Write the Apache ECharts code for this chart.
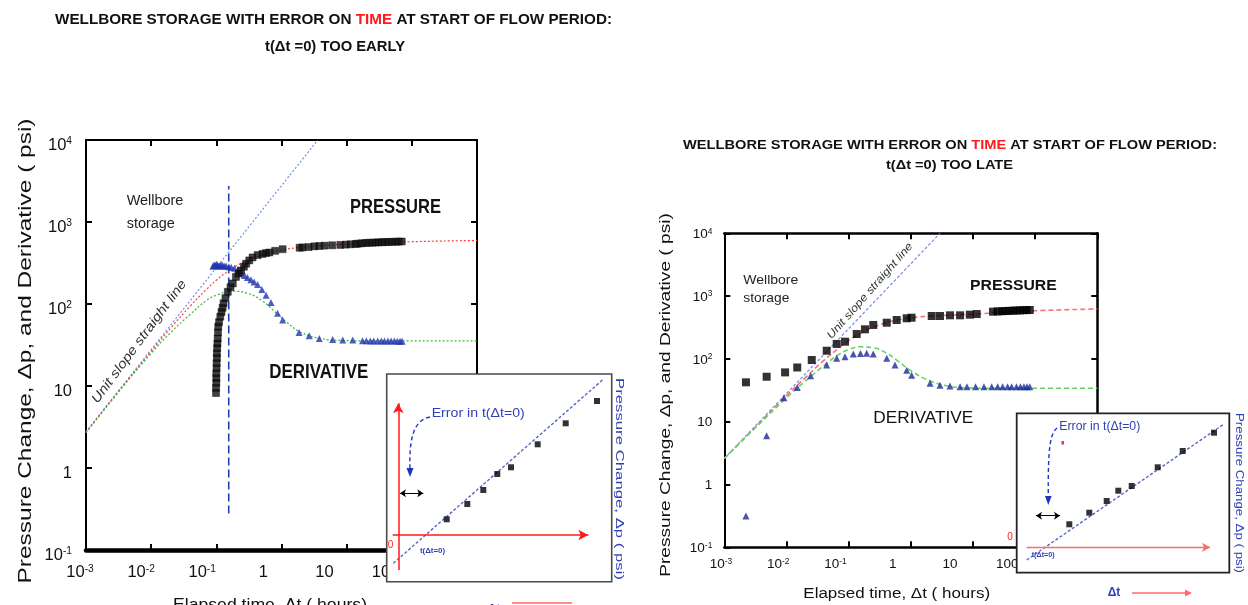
<!DOCTYPE html>
<html><head><meta charset="utf-8">
<script src="https://cdn.jsdelivr.net/npm/echarts@6/dist/echarts.min.js"></script>
<style>html,body{margin:0;padding:0;background:#fff}#c{width:1248px;height:605px}</style>
</head><body><div id="c"></div>
<script>
// ---------------- data ----------------
const xTickExp = [-3, -2, -1, 0, 1, 2, 3];
const xTickLabels = ['10{s|-3}', '10{s|-2}', '10{s|-1}', '1', '10', '100', '1000'];
const yTickExp = [-1, 0, 1, 2, 3, 4];
const yTickLabels = ['10{s|-1}', '1', '10', '10{s|2}', '10{s|3}', '10{s|4}'];

// Left chart: t(dt=0) too early
const leftPressureT = [0.099,0.099,0.1,0.1,0.1,0.101,0.101,0.102,0.102,0.103,0.104,0.105,0.106,0.107,0.11,0.115,0.12,0.125,0.129,0.138,0.15,0.165,0.179,0.2,0.22,0.24,0.265,0.287,0.32,0.36,0.43,0.51,0.58,0.65,0.8,1.04,1.9,2.1,2.6,3.2,3.8,4.6,6.0,8.0,9.7,11.5,13.8,15,17,19.6,22,25,28,31,35,39,44,50,57,63,70];
const leftPressureP = [8.2,9.5,11,12.5,14.3,16.5,19,22,25,29,33,38,45,53,60,70,80,90,102,118,141,160,178,214,235,256,285,310,340,370,395,408,418,425,445,466,485,490,495,505,510,515,520,525,530,535,540,545,550,555,558,560,562,565,567,569,571,573,575,577,578];
const leftDerivT = [0.0885,0.092,0.096,0.1,0.104,0.108,0.112,0.118,0.125,0.133,0.141,0.155,0.169,0.19,0.214,0.24,0.27,0.3,0.34,0.38,0.43,0.5,0.58,0.69,0.87,1.04,1.86,2.66,3.8,6.1,8.7,12.4,17.5,20,23,26,30,34,38,43,48,54,60,66,71];
const leftDerivD = [289,300,295,306,298,289,292,300,296,288,290,285,281,272,262,240,223,210,198,185,173,150,128,104,77,64,45,41,38,37,36.5,36.5,35.7,35.7,35.5,35.5,35.5,35.4,35.4,35.3,35.3,35.3,35.2,35.2,35.2];
const leftModelT = [0.001,0.003,0.01,0.02,0.04,0.07,0.1,0.15,0.2,0.3,0.5,0.7,1,2,5,10,30,100,1000];
const leftModelP = [2.7,8.2,26.5,51,95,150,195,250,290,340,395,425,455,490,520,535,555,575,595];
const leftModelDT = [0.001,0.003,0.01,0.02,0.04,0.07,0.1,0.18,0.3,0.5,0.8,1.2,2,4,8,20,1000];
const leftModelD = [2.7,8,25,45,75,110,128,143,135,110,80,60,45,38,36,35.5,35.5];
const leftUnitSlopeT = [0.001, 3.61];
const leftUnitSlopeP = [2.77, 10000];
const leftTimeMarkT = [0.155, 0.155];
const leftTimeMarkP = [0.278, 2750];

// Right chart: t(dt=0) too late
const rightPressureT = [0.00223,0.0048,0.0095,0.0149,0.0255,0.0444,0.0643,0.0874,0.135,0.183,0.249,0.41,0.593,0.859,1.03,2.17,2.95,4.27,6.2,8.9,11.5,21,25,29,33,38,44,50,57,65,73,82];
const rightPressureP = [42.4,52,61,73,96,135,173,188,249,296,347,377,416,443,453,482,482,494,494,506,518,565,570,575,578,582,586,590,593,596,599,601];
const rightDerivT = [0.00223,0.0048,0.0091,0.0149,0.0245,0.0444,0.0643,0.0874,0.119,0.155,0.195,0.249,0.41,0.557,0.859,1.03,2.04,2.95,4.27,6.2,8,11,15,20,25,30,36,42,50,58,66,74,82];
const rightDerivD = [0.315,6.0,24,35,54,80,102,108,120,122,123,120,102,80,66,55,41,38,37,36,36,36,36,36,36,36,36,36,36,36,36,36,36];
const rightModelT = [0.001,0.003,0.01,0.02,0.04,0.07,0.1,0.15,0.25,0.4,0.6,1,2,5,10,30,100,1000];
const rightModelP = [2.6,7.8,26,50,95,150,195,250,320,375,415,450,480,500,515,550,585,624];
const rightModelDT = [0.001,0.003,0.01,0.02,0.04,0.07,0.1,0.152,0.25,0.4,0.6,1,2,4,8,20,1000];
const rightModelD = [2.6,7.6,24,44,78,118,140,156,150,125,95,65,45,37,34.5,34,34];
const rightUnitSlopeT = [0.001, 2.95];
const rightUnitSlopeP = [2.6, 10000];

// Insets (sketch units: dt axis vs pressure change)
const leftInsetX = [48.4,69,85,99,112.7,139.4,167.4,198.7];
const leftInsetY = [15.7,31,45,61,67.7,90.7,111.7,134];
const leftInsetLineX = [-5, 205];
const leftInsetLineY = [-28.3, 155.7];
const rightInsetX = [42.6,62.6,80,91.6,105,131,156,187.3];
const rightInsetY = [23,34.6,46.3,56.6,61.3,80,96.3,114.6];
const rightInsetLineX = [0, 197.3];
const rightInsetLineY = [-12.7, 123.3];

// ---------------- helpers ----------------
const zip = (a, b) => a.map((v, i) => [v, b[i]]);
const cv = document.createElement('canvas').getContext('2d');
function mw(t, font) { cv.font = font; return cv.measureText(t).width; }
const FR = '"Liberation Sans", Arial, sans-serif';
function fmt(exps, labs) {
  return v => { const e = Math.round(Math.log10(v)); const i = exps.indexOf(e); return i >= 0 ? labs[i] : ''; };
}

const lfs = 16.5;
const rfs = 13.5;

function mainX(grid, pos, lw) {
  return { type: 'log', logBase: 10, gridIndex: grid, position: pos, min: 0.001, max: 1000, interval: 1, splitNumber: 6,
    axisLine: { show: true, onZero: false, lineStyle: { color: '#000', width: lw } },
    axisTick: { show: true, inside: true, length: 6, lineStyle: { color: '#000', width: 2 } },
    axisLabel: { show: false }, splitLine: { show: false }, minorTick: { show: false } };
}
function mainY(grid, pos, lw, fs, margin, padTop) {
  return { type: 'log', logBase: 10, gridIndex: grid, position: pos, min: 0.1, max: 10000, interval: 1, splitNumber: 5,
    axisLine: { show: true, onZero: false, lineStyle: { color: '#000', width: lw } },
    axisTick: { show: true, inside: true, length: 6, lineStyle: { color: '#000', width: 2 } },
    axisLabel: pos === 'left' ? { show: true, margin: margin, fontSize: fs, fontFamily: FR, color: '#111',
      padding: [padTop, 0, 0, 0],
      formatter: fmt(yTickExp, yTickLabels),
      rich: { s: { fontSize: fs * 0.62, fontFamily: FR, color: '#111', padding: [0, 0, fs * 0.45, 0] } } } : { show: false },
    splitLine: { show: false } };
}
function labelX(grid, fs, margin) {
  return { type: 'log', logBase: 10, gridIndex: grid, min: 0.001, max: 1000, interval: 1, splitNumber: 6,
    axisLine: { show: false }, axisTick: { show: false }, splitLine: { show: false },
    axisLabel: { show: true, margin: margin, fontSize: fs, fontFamily: FR, color: '#111',
      formatter: fmt(xTickExp, xTickLabels),
      rich: { s: { fontSize: fs * 0.62, fontFamily: FR, color: '#111', padding: [0, 0, fs * 0.45, 0] } } } };
}
function hiddenVal(grid, min, max) {
  return { type: 'value', gridIndex: grid, min: min, max: max, show: false, axisLine: { show: false }, splitLine: { show: false } };
}

const BLUE = '#2234b0';
const INSET_BLUE = '#3040b8';

const option = {
  animation: false,
  backgroundColor: '#fff',
  textStyle: { fontFamily: FR },
  grid: [
    { left: 86, top: 140, width: 391, height: 410, outerBoundsMode: 'none' },
    { left: 80, top: 140, width: 366.6, height: 410, outerBoundsMode: 'none' },
    { left: 724.3, top: 233.3, width: 373, height: 314, outerBoundsMode: 'none' },
    { left: 721, top: 233.3, width: 343.5, height: 314, outerBoundsMode: 'none' },
    { left: 386.7, top: 374, width: 225, height: 207.7, outerBoundsMode: 'none' },
    { left: 1016.7, top: 413.3, width: 212.6, height: 159.4, outerBoundsMode: 'none' }
  ],
  xAxis: [
    mainX(0, 'bottom', 4.5), mainX(0, 'top', 2), labelX(1, lfs, 14),
    mainX(2, 'bottom', 2.5), mainX(2, 'top', 2.5), labelX(3, rfs, 10),
    hiddenVal(4, -11.6, 213.4), hiddenVal(5, -10, 202.6)
  ],
  yAxis: [
    mainY(0, 'left', 2, lfs, 14, 10), mainY(0, 'right', 2, lfs, 0, 0), hiddenVal(1, 0, 1),
    mainY(2, 'left', 2, rfs, 12, 2), mainY(2, 'right', 2.5, rfs, 0, 0), hiddenVal(3, 0, 1),
    hiddenVal(4, -46.7, 161), hiddenVal(5, -25.4, 134)
  ],
  series: [
    // ---- left chart ----
    { type: 'line', xAxisIndex: 0, yAxisIndex: 0, data: zip(leftUnitSlopeT, leftUnitSlopeP), symbol: 'none',
      lineStyle: { color: '#6f8fe8', width: 1.2, type: [2, 2] }, z: 2 },
    { type: 'line', xAxisIndex: 0, yAxisIndex: 0, data: zip(leftModelT, leftModelP), symbol: 'none', smooth: true,
      lineStyle: { color: '#ff3a3a', width: 1.2, type: [2, 2] }, z: 2 },
    { type: 'line', xAxisIndex: 0, yAxisIndex: 0, data: zip(leftModelDT, leftModelD), symbol: 'none', smooth: true,
      lineStyle: { color: '#3cb83c', width: 1.2, type: [2, 2] }, z: 2 },
    { type: 'line', xAxisIndex: 0, yAxisIndex: 0, data: zip(leftTimeMarkT, leftTimeMarkP), symbol: 'none',
      lineStyle: { color: '#2040b0', width: 1.6, type: [8, 4] }, z: 3 },
    { type: 'scatter', xAxisIndex: 0, yAxisIndex: 0, data: zip(leftDerivT, leftDerivD), symbol: 'triangle', symbolSize: 7,
      itemStyle: { color: BLUE }, z: 4 },
    { type: 'scatter', xAxisIndex: 0, yAxisIndex: 0, data: zip(leftPressureT, leftPressureP), symbol: 'rect', symbolSize: 7,
      itemStyle: { color: '#111', borderColor: '#000', borderWidth: 0.5 }, z: 5 },
    // ---- right chart ----
    { type: 'line', xAxisIndex: 3, yAxisIndex: 3, data: zip(rightUnitSlopeT, rightUnitSlopeP), symbol: 'none',
      lineStyle: { color: '#6f8fe8', width: 1.2, type: [3, 2] }, z: 2 },
    { type: 'line', xAxisIndex: 3, yAxisIndex: 3, data: zip(rightModelT, rightModelP), symbol: 'none', smooth: true,
      lineStyle: { color: '#ff7070', width: 1.6, type: [5, 3] }, z: 2 },
    { type: 'line', xAxisIndex: 3, yAxisIndex: 3, data: zip(rightModelDT, rightModelD), symbol: 'none', smooth: true,
      lineStyle: { color: '#66d066', width: 1.6, type: [5, 3] }, z: 2 },
    { type: 'scatter', xAxisIndex: 3, yAxisIndex: 3, data: zip(rightDerivT, rightDerivD), symbol: 'triangle', symbolSize: 7,
      itemStyle: { color: '#1a2a9a' }, z: 4 },
    { type: 'scatter', xAxisIndex: 3, yAxisIndex: 3, data: zip(rightPressureT, rightPressureP), symbol: 'rect', symbolSize: 8,
      itemStyle: { color: '#000' }, z: 5 },
    // ---- left inset ----
    { type: 'line', xAxisIndex: 6, yAxisIndex: 6, data: zip(leftInsetLineX, leftInsetLineY), symbol: 'none',
      lineStyle: { color: '#5566c4', width: 1.4, type: [3, 2] }, z: 60,
      markLine: { silent: true, z: 62, symbol: ['none', 'arrow'], symbolSize: [8, 10], label: { show: false },
        lineStyle: { color: '#ff1a1a', type: 'solid', width: 1.5 },
        data: [[{ coord: [-5.6, 0] }, { coord: [190, 0] }], [{ coord: [0, -35] }, { coord: [0, 131.7] }]] } },
    { type: 'scatter', xAxisIndex: 6, yAxisIndex: 6, data: zip(leftInsetX, leftInsetY), symbol: 'rect', symbolSize: 6,
      itemStyle: { color: '#000' }, z: 61,
      markLine: { silent: true, z: 62, symbol: ['arrow', 'arrow'], symbolSize: [6, 6], label: { show: false },
        lineStyle: { color: '#000', type: 'solid', width: 1 },
        data: [[{ coord: [1.7, 41.7] }, { coord: [25, 41.7] }]] } },
    // ---- right inset ----
    { type: 'line', xAxisIndex: 7, yAxisIndex: 7, data: zip(rightInsetLineX, rightInsetLineY), symbol: 'none',
      lineStyle: { color: '#5566c4', width: 1.4, type: [3, 2] }, z: 60,
      markLine: { silent: true, z: 62, symbol: ['none', 'arrow'], symbolSize: [7, 8], label: { show: false },
        lineStyle: { color: '#ff6a6a', type: 'solid', width: 1.3 },
        data: [[{ coord: [0, 0] }, { coord: [183.3, 0] }]] } },
    { type: 'scatter', xAxisIndex: 7, yAxisIndex: 7, data: zip(rightInsetX, rightInsetY), symbol: 'rect', symbolSize: 6,
      itemStyle: { color: '#000' }, z: 61,
      markLine: { silent: true, z: 62, symbol: ['arrow', 'arrow'], symbolSize: [6, 6], label: { show: false },
        lineStyle: { color: '#000', type: 'solid', width: 1 },
        data: [[{ coord: [9.3, 31.6] }, { coord: [33.3, 31.6] }]] } }
  ],
  graphic: { elements: [] }
};

// ---------------- annotations ----------------
const G = option.graphic.elements;
// text with font size set by glyph height and horizontal scale set to match the measured width
function txt(text, x, y, o) {
  o = o || {};
  const weight = o.weight || 'normal', style = o.style || 'normal';
  const fs = o.fs;
  let sx = 1;
  if (o.width) sx = o.width / mw(o.plain || text, style + ' ' + weight + ' ' + fs + 'px ' + FR);
  const el = { type: 'text', x: x, y: y, rotation: o.rot || 0, scaleX: sx, z: o.z || 20, silent: true,
    style: { text: text, fontSize: fs, fontFamily: FR, fontWeight: weight, fontStyle: style,
      fill: o.color || '#111', align: o.align || 'center', verticalAlign: o.va || 'middle' } };
  if (o.rich) el.style.rich = o.rich(fs);
  G.push(el);
}
function titleRich(fs) {
  return { b: { fontSize: fs, fontFamily: FR, fontWeight: 'bold', fill: '#111', color: '#111' },
           r: { fontSize: fs, fontFamily: FR, fontWeight: 'bold', fill: '#ff1a1a', color: '#ff1a1a' } };
}
const T1a = 'WELLBORE STORAGE WITH ERROR ON ', T1b = 'TIME', T1c = ' AT START OF FLOW PERIOD:';
// titles
txt('{b|' + T1a + '}{r|' + T1b + '}{b|' + T1c + '}', 333.5, 20, { plain: T1a + T1b + T1c, fs: 15.5, width: 557, weight: 'bold', rich: titleRich });
txt('t(Δt =0) TOO EARLY', 335, 46.5, { fs: 15.5, width: 140, weight: 'bold' });
txt('{b|' + T1a + '}{r|' + T1b + '}{b|' + T1c + '}', 950, 145, { plain: T1a + T1b + T1c, fs: 13, width: 534, weight: 'bold', rich: titleRich });
txt('t(Δt =0) TOO LATE', 949.5, 165, { fs: 13, width: 127, weight: 'bold' });

// axis titles
txt('Pressure Change, Δp, and Derivative ( psi)', 26, 351, { fs: 19, width: 465, rot: Math.PI / 2 });
txt('Elapsed time, Δt ( hours)', 270, 597, { fs: 17, width: 194, va: 'top' });
txt('Pressure Change, Δp, and Derivative ( psi)', 666, 395, { fs: 14.5, width: 363.7, rot: Math.PI / 2 });
txt('Elapsed time, Δt ( hours)', 896.7, 593.3, { fs: 15.5, width: 186.7 });

// left chart labels
txt('Wellbore', 126.7, 201, { fs: 14, width: 56.7, align: 'left', color: '#222' });
txt('storage', 126.7, 224, { fs: 14, width: 48, align: 'left', color: '#222' });
txt('PRESSURE', 350, 207, { fs: 20, width: 91, align: 'left', weight: 'bold' });
txt('DERIVATIVE', 269.3, 372, { fs: 20, width: 99, align: 'left', weight: 'bold' });
txt('Unit slope straight line', 139.2, 341.7, { fs: 13, width: 150, rot: 0.932, style: 'italic', color: '#333' });

// right chart labels
txt('Wellbore', 743.3, 280, { fs: 13, width: 55, align: 'left', color: '#222' });
txt('storage', 743.3, 298.3, { fs: 13, width: 46, align: 'left', color: '#222' });
txt('PRESSURE', 970, 286, { fs: 15, width: 86.7, align: 'left', weight: 'bold' });
txt('DERIVATIVE', 873.3, 418.3, { fs: 16.5, width: 100, align: 'left' });
txt('Unit slope straight line', 870, 291, { fs: 11, width: 124, rot: 0.85, style: 'italic', color: '#333' });

// inset boxes (white cover + frame)
G.push({ type: 'rect', z: 50, silent: true, shape: { x: 386.7, y: 374, width: 225, height: 207.7 }, style: { fill: '#fff', stroke: '#4a4a4a', lineWidth: 1.6 } });
G.push({ type: 'rect', z: 50, silent: true, shape: { x: 1016.7, y: 413.3, width: 212.6, height: 159.4 }, style: { fill: '#fff', stroke: '#222', lineWidth: 1.8 } });

// left inset annotations
txt('Error in t(Δt=0)', 431.7, 413.3, { fs: 13, width: 93, align: 'left', color: INSET_BLUE, z: 70 });
txt('t(Δt=0)', 420, 550.7, { fs: 8, width: 25, align: 'left', color: INSET_BLUE, weight: 'bold', z: 70 });
txt('0', 390.5, 545, { fs: 10, color: '#ff2020', z: 70 });
txt('Pressure Change, Δp ( psi)', 619.3, 479, { fs: 11.5, width: 202, rot: -Math.PI / 2, color: INSET_BLUE, z: 70 });
G.push({ type: 'bezierCurve', z: 70, silent: true, shape: { x1: 430, y1: 417, cpx1: 413, cpy1: 420, cpx2: 409, cpy2: 440, x2: 410, y2: 470 },
  style: { stroke: '#2233bb', lineWidth: 1.4, lineDash: [4, 3], fill: null } });
G.push({ type: 'polygon', z: 70, silent: true, shape: { points: [[406.5, 468], [413.5, 468], [410, 477]] }, style: { fill: '#2233bb' } });
txt('Δt', 494, 604, { fs: 12, color: INSET_BLUE, weight: 'bold', va: 'top' });
G.push({ type: 'line', z: 70, silent: true, shape: { x1: 512, y1: 603, x2: 572, y2: 603 }, style: { stroke: '#ff6a6a', lineWidth: 1.3 } });

// right inset annotations
txt('Error in t(Δt=0)', 1059.3, 426.7, { fs: 12, width: 81, align: 'left', color: INSET_BLUE, z: 70 });
txt('t(Δt=0)', 1031.7, 555, { fs: 8, width: 23, align: 'left', color: INSET_BLUE, weight: 'bold', z: 70 });
txt('0', 1010, 537, { fs: 10, color: '#ff2020', z: 70 });
G.push({ type: 'rect', z: 70, silent: true, shape: { x: 1061.5, y: 441, width: 2.5, height: 3.5 }, style: { fill: '#ff3030' } });
txt('Pressure Change, Δp ( psi)', 1239, 493, { fs: 10, width: 160, rot: -Math.PI / 2, color: INSET_BLUE, z: 70 });
G.push({ type: 'bezierCurve', z: 70, silent: true, shape: { x1: 1057, y1: 428, cpx1: 1049, cpy1: 434, cpx2: 1048, cpy2: 455, x2: 1048.3, y2: 498 },
  style: { stroke: '#2233bb', lineWidth: 1.4, lineDash: [4, 3], fill: null } });
G.push({ type: 'polygon', z: 70, silent: true, shape: { points: [[1045, 496], [1051.6, 496], [1048.3, 505]] }, style: { fill: '#2233bb' } });
txt('Δt', 1114, 593, { fs: 12, color: INSET_BLUE, weight: 'bold' });
G.push({ type: 'line', z: 70, silent: true, shape: { x1: 1132, y1: 593, x2: 1188, y2: 593 }, style: { stroke: '#ff6a6a', lineWidth: 1.3 } });
G.push({ type: 'polygon', z: 70, silent: true, shape: { points: [[1185, 589.5], [1185, 596.5], [1192, 593]] }, style: { fill: '#ff6a6a' } });

const chart = echarts.init(document.getElementById('c'), null, { renderer: 'canvas' });
chart.setOption(option);
</script>
</body></html>
